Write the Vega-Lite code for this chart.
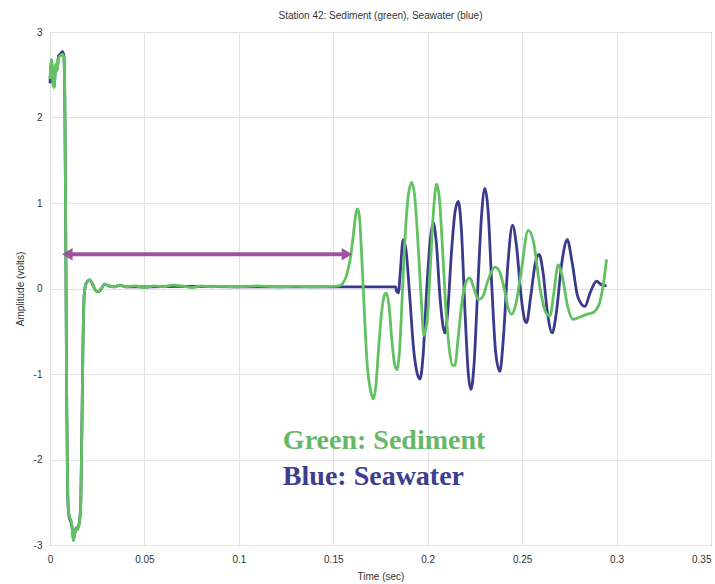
{
  "$schema": "https://vega.github.io/schema/vega-lite/v6.json",
  "autosize": "none",
  "width": 661,
  "height": 513,
  "padding": {"left": 50, "top": 32, "right": 4, "bottom": 39},
  "background": "white",
  "config": {
    "view": {"stroke": "#8a8a8a", "strokeWidth": 1},
    "font": "Liberation Sans",
    "axis": {
      "gridColor": "#e2e2e2",
      "gridWidth": 1,
      "domain": false,
      "ticks": false,
      "labelFont": "Liberation Sans",
      "labelFontSize": 10,
      "labelColor": "#333333",
      "titleFont": "Liberation Sans",
      "titleFontSize": 10,
      "titleFontWeight": "normal",
      "titleColor": "#333333"
    }
  },
  "title": {
    "text": "Station 42: Sediment (green), Seawater (blue)",
    "fontSize": 10,
    "fontWeight": "normal",
    "font": "Liberation Sans",
    "color": "#333333",
    "offset": 6
  },
  "datasets": {
    "seawater": [
      {"t": 0, "a": 2.4}, {"t": 0.0008, "a": 2.66}, {"t": 0.0015, "a": 2.42}, {"t": 0.0022, "a": 2.36},
      {"t": 0.003, "a": 2.6}, {"t": 0.0038, "a": 2.56}, {"t": 0.0045, "a": 2.72}, {"t": 0.0055, "a": 2.74},
      {"t": 0.0065, "a": 2.77}, {"t": 0.0073, "a": 2.73}, {"t": 0.0078, "a": 2.3}, {"t": 0.0083, "a": 0.8},
      {"t": 0.0088, "a": -1.2}, {"t": 0.0093, "a": -2.3}, {"t": 0.0098, "a": -2.62}, {"t": 0.0105, "a": -2.7},
      {"t": 0.0112, "a": -2.74}, {"t": 0.0118, "a": -2.82}, {"t": 0.0124, "a": -2.94}, {"t": 0.013, "a": -2.88},
      {"t": 0.0138, "a": -2.8}, {"t": 0.0146, "a": -2.8}, {"t": 0.0155, "a": -2.74}, {"t": 0.0163, "a": -2.5},
      {"t": 0.0169, "a": -1.6}, {"t": 0.0175, "a": -0.6}, {"t": 0.0181, "a": -0.08}, {"t": 0.0188, "a": 0.04},
      {"t": 0.0197, "a": 0.08}, {"t": 0.021, "a": 0.1}, {"t": 0.0225, "a": 0.05}, {"t": 0.024, "a": -0.02},
      {"t": 0.0257, "a": -0.04}, {"t": 0.0272, "a": 0.0}, {"t": 0.029, "a": 0.05}, {"t": 0.031, "a": 0.03},
      {"t": 0.034, "a": 0.02}, {"t": 0.037, "a": 0.04}, {"t": 0.04, "a": 0.02}, {"t": 0.05, "a": 0.02},
      {"t": 0.07, "a": 0.025}, {"t": 0.1, "a": 0.02}, {"t": 0.13, "a": 0.02}, {"t": 0.16, "a": 0.02},
      {"t": 0.183, "a": 0.02}, {"t": 0.1835, "a": -0.03}, {"t": 0.1845, "a": -0.05}, {"t": 0.1855, "a": 0.2},
      {"t": 0.187, "a": 0.57}, {"t": 0.1885, "a": 0.45}, {"t": 0.1905, "a": -0.1}, {"t": 0.1925, "a": -0.7},
      {"t": 0.1945, "a": -1.0}, {"t": 0.1959, "a": -1.06}, {"t": 0.1975, "a": -0.8}, {"t": 0.1995, "a": 0.0},
      {"t": 0.2015, "a": 0.6}, {"t": 0.2029, "a": 0.77}, {"t": 0.2045, "a": 0.55}, {"t": 0.2065, "a": -0.1},
      {"t": 0.2082, "a": -0.45}, {"t": 0.2091, "a": -0.52}, {"t": 0.2105, "a": -0.3}, {"t": 0.2125, "a": 0.4},
      {"t": 0.2145, "a": 0.9}, {"t": 0.2162, "a": 1.02}, {"t": 0.2178, "a": 0.7}, {"t": 0.2198, "a": -0.3},
      {"t": 0.2215, "a": -1.0}, {"t": 0.2229, "a": -1.18}, {"t": 0.2245, "a": -0.9}, {"t": 0.2265, "a": 0.0},
      {"t": 0.2285, "a": 0.85}, {"t": 0.2303, "a": 1.17}, {"t": 0.232, "a": 0.9}, {"t": 0.234, "a": 0.0},
      {"t": 0.236, "a": -0.75}, {"t": 0.2382, "a": -0.97}, {"t": 0.24, "a": -0.6}, {"t": 0.2425, "a": 0.3},
      {"t": 0.2449, "a": 0.74}, {"t": 0.247, "a": 0.5}, {"t": 0.2495, "a": -0.1}, {"t": 0.2515, "a": -0.38},
      {"t": 0.2523, "a": -0.4}, {"t": 0.2545, "a": -0.1}, {"t": 0.257, "a": 0.3}, {"t": 0.259, "a": 0.4},
      {"t": 0.261, "a": 0.2}, {"t": 0.2635, "a": -0.3}, {"t": 0.2659, "a": -0.52}, {"t": 0.268, "a": -0.3},
      {"t": 0.271, "a": 0.3}, {"t": 0.2739, "a": 0.57}, {"t": 0.2765, "a": 0.3}, {"t": 0.2795, "a": -0.1},
      {"t": 0.2832, "a": -0.21}, {"t": 0.286, "a": -0.05}, {"t": 0.2894, "a": 0.085}, {"t": 0.2915, "a": 0.05},
      {"t": 0.2947, "a": 0.03}
    ],
    "sediment": [
      {"t": 0, "a": 2.45}, {"t": 0.0008, "a": 2.68}, {"t": 0.0015, "a": 2.4}, {"t": 0.0022, "a": 2.35},
      {"t": 0.003, "a": 2.62}, {"t": 0.0038, "a": 2.55}, {"t": 0.0045, "a": 2.7}, {"t": 0.0055, "a": 2.72},
      {"t": 0.0065, "a": 2.74}, {"t": 0.0073, "a": 2.7}, {"t": 0.0078, "a": 2.3}, {"t": 0.0083, "a": 0.8},
      {"t": 0.0088, "a": -1.2}, {"t": 0.0093, "a": -2.3}, {"t": 0.0098, "a": -2.6}, {"t": 0.0105, "a": -2.68},
      {"t": 0.0112, "a": -2.72}, {"t": 0.0118, "a": -2.8}, {"t": 0.0124, "a": -2.95}, {"t": 0.013, "a": -2.88},
      {"t": 0.0138, "a": -2.8}, {"t": 0.0146, "a": -2.82}, {"t": 0.0155, "a": -2.75}, {"t": 0.0163, "a": -2.5},
      {"t": 0.0169, "a": -1.6}, {"t": 0.0175, "a": -0.6}, {"t": 0.0181, "a": -0.08}, {"t": 0.0188, "a": 0.04},
      {"t": 0.0197, "a": 0.08}, {"t": 0.021, "a": 0.1}, {"t": 0.0225, "a": 0.05}, {"t": 0.024, "a": -0.02},
      {"t": 0.0257, "a": -0.04}, {"t": 0.0272, "a": 0.0}, {"t": 0.029, "a": 0.05}, {"t": 0.031, "a": 0.03},
      {"t": 0.034, "a": 0.02}, {"t": 0.037, "a": 0.04}, {"t": 0.04, "a": 0.02}, {"t": 0.045, "a": 0.03},
      {"t": 0.05, "a": 0.01}, {"t": 0.055, "a": 0.03}, {"t": 0.06, "a": 0.02}, {"t": 0.065, "a": 0.04},
      {"t": 0.07, "a": 0.03}, {"t": 0.075, "a": 0.01}, {"t": 0.08, "a": 0.03}, {"t": 0.085, "a": 0.02},
      {"t": 0.09, "a": 0.025}, {"t": 0.1, "a": 0.02}, {"t": 0.11, "a": 0.03}, {"t": 0.12, "a": 0.02},
      {"t": 0.13, "a": 0.025}, {"t": 0.14, "a": 0.02}, {"t": 0.15, "a": 0.025}, {"t": 0.153, "a": 0.03},
      {"t": 0.155, "a": 0.06}, {"t": 0.157, "a": 0.15}, {"t": 0.159, "a": 0.35}, {"t": 0.1605, "a": 0.6},
      {"t": 0.162, "a": 0.88}, {"t": 0.1628, "a": 0.93}, {"t": 0.1638, "a": 0.85}, {"t": 0.165, "a": 0.4},
      {"t": 0.1665, "a": -0.3}, {"t": 0.168, "a": -0.9}, {"t": 0.1698, "a": -1.2}, {"t": 0.1712, "a": -1.29},
      {"t": 0.1725, "a": -1.15}, {"t": 0.174, "a": -0.7}, {"t": 0.1755, "a": -0.3}, {"t": 0.1772, "a": -0.07},
      {"t": 0.1782, "a": -0.05}, {"t": 0.1795, "a": -0.2}, {"t": 0.181, "a": -0.6}, {"t": 0.1826, "a": -0.9},
      {"t": 0.1838, "a": -0.95}, {"t": 0.185, "a": -0.75}, {"t": 0.1865, "a": -0.1}, {"t": 0.188, "a": 0.6},
      {"t": 0.1898, "a": 1.1}, {"t": 0.1915, "a": 1.24}, {"t": 0.193, "a": 1.1}, {"t": 0.1948, "a": 0.55},
      {"t": 0.1965, "a": -0.1}, {"t": 0.198, "a": -0.55}, {"t": 0.1998, "a": -0.35}, {"t": 0.2015, "a": 0.3},
      {"t": 0.2032, "a": 0.95}, {"t": 0.2047, "a": 1.22}, {"t": 0.2062, "a": 1.05}, {"t": 0.208, "a": 0.4},
      {"t": 0.2098, "a": -0.3}, {"t": 0.2115, "a": -0.72}, {"t": 0.2132, "a": -0.9}, {"t": 0.2144, "a": -0.9},
      {"t": 0.216, "a": -0.6}, {"t": 0.2185, "a": -0.1}, {"t": 0.2208, "a": 0.1}, {"t": 0.2223, "a": 0.125},
      {"t": 0.2245, "a": 0.0}, {"t": 0.2268, "a": -0.13}, {"t": 0.229, "a": -0.1}, {"t": 0.232, "a": 0.1},
      {"t": 0.2356, "a": 0.25}, {"t": 0.238, "a": 0.2}, {"t": 0.2405, "a": 0.0}, {"t": 0.2425, "a": -0.22},
      {"t": 0.2444, "a": -0.3}, {"t": 0.2465, "a": -0.2}, {"t": 0.2495, "a": 0.2}, {"t": 0.2532, "a": 0.68},
      {"t": 0.256, "a": 0.55}, {"t": 0.2595, "a": 0.0}, {"t": 0.2625, "a": -0.28}, {"t": 0.2647, "a": -0.32},
      {"t": 0.2668, "a": -0.05}, {"t": 0.2691, "a": 0.28}, {"t": 0.2712, "a": 0.15}, {"t": 0.274, "a": -0.2},
      {"t": 0.277, "a": -0.36}, {"t": 0.281, "a": -0.33}, {"t": 0.2845, "a": -0.3}, {"t": 0.2876, "a": -0.28},
      {"t": 0.2905, "a": -0.2}, {"t": 0.293, "a": 0.05}, {"t": 0.2947, "a": 0.34}
    ],
    "shaft": [{"t1": 0.009, "t2": 0.157, "a": 0.4}],
    "heads": [{"t": 0.0064, "a": 0.4, "dir": "left"}, {"t": 0.16, "a": 0.4, "dir": "right"}],
    "labels": [
      {"t": 0.1233, "a": -1.78, "label": "Green: Sediment", "series": "Sediment"},
      {"t": 0.1233, "a": -2.21, "label": "Blue: Seawater", "series": "Seawater"}
    ]
  },
  "encoding": {
    "x": {"type": "quantitative"},
    "y": {"type": "quantitative"}
  },
  "layer": [
    {
      "data": {"name": "seawater"},
      "mark": {"type": "line", "color": "#3a3a8c", "strokeWidth": 2.8, "interpolate": "monotone"},
      "encoding": {
        "x": {
          "field": "t", "type": "quantitative",
          "scale": {"domain": [0, 0.35], "nice": false, "zero": false},
          "axis": {
            "title": "Time (sec)",
            "values": [0, 0.05, 0.1, 0.15, 0.2, 0.25, 0.3, 0.35],
            "labelExpr": "'' + datum.value",
            "labelPadding": 9,
            "titlePadding": 7,
            "labelFlush": false,
            "labelAlign": {"condition": {"test": "datum.value >= 0.34", "value": "right"}, "value": "center"}
          }
        },
        "y": {
          "field": "a", "type": "quantitative",
          "scale": {"domain": [-3, 3], "nice": false, "zero": false},
          "axis": {
            "title": "Amplitude (volts)",
            "values": [-3, -2, -1, 0, 1, 2, 3],
            "labelExpr": "'' + datum.value",
            "labelPadding": 8,
            "titlePadding": 8
          }
        }
      }
    },
    {
      "data": {"name": "sediment"},
      "mark": {"type": "line", "color": "#62c262", "strokeWidth": 2.8, "interpolate": "monotone"},
      "encoding": {
        "x": {"field": "t", "type": "quantitative"},
        "y": {"field": "a", "type": "quantitative"}
      }
    },
    {
      "data": {"name": "shaft"},
      "mark": {"type": "rule", "color": "#a0539d", "strokeWidth": 4},
      "encoding": {
        "x": {"field": "t1", "type": "quantitative"},
        "x2": {"field": "t2"},
        "y": {"field": "a", "type": "quantitative"}
      }
    },
    {
      "data": {"name": "heads"},
      "mark": {"type": "point", "filled": true, "opacity": 1, "color": "#a0539d", "size": 110},
      "encoding": {
        "x": {"field": "t", "type": "quantitative"},
        "y": {"field": "a", "type": "quantitative"},
        "shape": {
          "field": "dir", "type": "nominal",
          "scale": {"domain": ["left", "right"], "range": ["M0,0L2,-1.2L2,1.2Z", "M0,0L-2,-1.2L-2,1.2Z"]},
          "legend": null
        }
      }
    },
    {
      "data": {"name": "labels"},
      "mark": {"type": "text", "align": "left", "baseline": "middle", "font": "Liberation Serif", "fontWeight": "bold", "fontSize": 28},
      "encoding": {
        "x": {"field": "t", "type": "quantitative"},
        "y": {"field": "a", "type": "quantitative"},
        "text": {"field": "label"},
        "color": {
          "field": "series", "type": "nominal",
          "scale": {"domain": ["Sediment", "Seawater"], "range": ["#66b866", "#3d3d91"]},
          "legend": null
        }
      }
    }
  ]
}
